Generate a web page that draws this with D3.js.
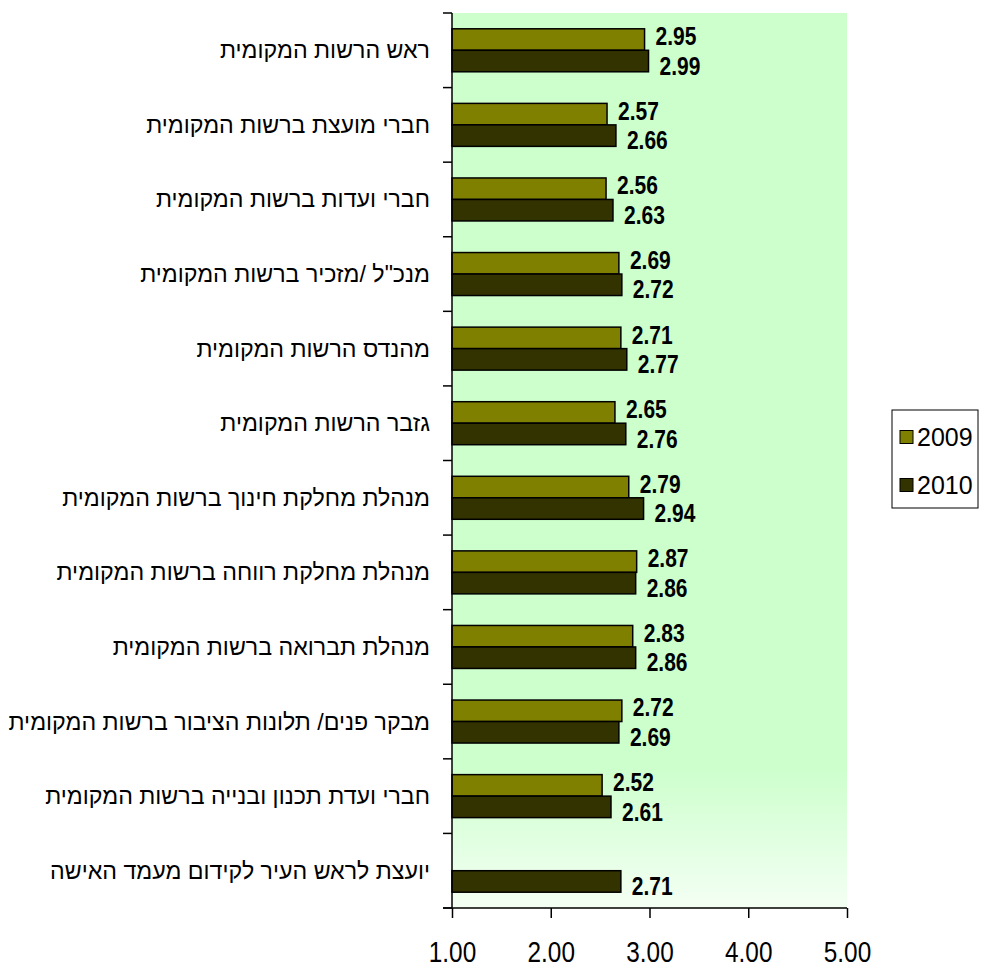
<!DOCTYPE html>
<html>
<head>
<meta charset="utf-8">
<script src="https://cdn.jsdelivr.net/npm/d3@7"></script>
<style>
  html, body { margin: 0; padding: 0; background: #fff; }
  svg { display: block; }
</style>
</head>
<body>
<svg id="chart" width="983" height="970"></svg>
<script>
// Role categories, top to bottom
const categories = [
  "ראש הרשות המקומית",
  "חברי מועצת ברשות המקומית",
  "חברי ועדות ברשות המקומית",
  "מנכ\"ל /מזכיר ברשות המקומית",
  "מהנדס הרשות המקומית",
  "גזבר הרשות המקומית",
  "מנהלת מחלקת חינוך ברשות המקומית",
  "מנהלת מחלקת רווחה ברשות המקומית",
  "מנהלת תברואה ברשות המקומית",
  "מבקר פנים/ תלונות הציבור ברשות המקומית",
  "חברי ועדת תכנון ובנייה ברשות המקומית",
  "יועצת לראש העיר לקידום מעמד האישה"
];

const seriesNames = ["2009", "2010"];

const values2009 = [2.95, 2.57, 2.56, 2.69, 2.71, 2.65, 2.79, 2.87, 2.83, 2.72, 2.52, null];
const values2010 = [2.99, 2.66, 2.63, 2.72, 2.77, 2.76, 2.94, 2.86, 2.86, 2.69, 2.61, 2.71];

const xTicks = [1, 2, 3, 4, 5];

const colors = { "2009": "#808000", "2010": "#333300" };

const svg = d3.select("#chart");

const plot = { left: 452, right: 847, top: 13, bottom: 908 };
const narrow = 0.84; // horizontal squeeze for condensed-looking numbers

const x = d3.scaleLinear().domain([1, 5]).range([plot.left, plot.right]);
const y = d3.scaleBand().domain(categories).range([plot.top, plot.bottom]).padding(0);
const ySub = d3.scaleBand().domain(seriesNames).range([0, y.bandwidth()])
  .paddingInner(0).paddingOuter(0.735);

// Plot area background
const defs = svg.append("defs");
const grad = defs.append("linearGradient").attr("id", "bg")
  .attr("x1", 0).attr("y1", 0).attr("x2", 0).attr("y2", 1);
grad.append("stop").attr("offset", "0%").attr("stop-color", "#ccffcc");
grad.append("stop").attr("offset", "84%").attr("stop-color", "#ccffcc");
grad.append("stop").attr("offset", "100%").attr("stop-color", "#f4fff4");

svg.append("rect")
  .attr("x", plot.left).attr("y", plot.top)
  .attr("width", plot.right - plot.left).attr("height", plot.bottom - plot.top)
  .attr("fill", "url(#bg)");

// Build flat rows for bars
const rows = [];
categories.forEach((c, i) => {
  [["2009", values2009[i]], ["2010", values2010[i]]].forEach(([s, v]) => {
    if (v != null) rows.push({ cat: c, series: s, value: v });
  });
});

// Bars
svg.append("g").selectAll("rect")
  .data(rows).join("rect")
  .attr("x", x(1))
  .attr("y", d => y(d.cat) + ySub(d.series))
  .attr("width", d => x(d.value) - x(1))
  .attr("height", ySub.bandwidth())
  .attr("fill", d => colors[d.series])
  .attr("stroke", "#000")
  .attr("stroke-width", 1.5);

// Value labels (condensed bold)
const labelShift = { "2009": -3, "2010": 5 };
svg.append("g").selectAll("text")
  .data(rows).join("text")
  .attr("transform", d => `translate(${x(d.value) + 11},${y(d.cat) + ySub(d.series) + ySub.bandwidth() / 2 + labelShift[d.series]}) scale(${narrow},1)`)
  .attr("dominant-baseline", "central")
  .attr("font-family", "'Liberation Sans', Arial, sans-serif")
  .attr("font-weight", "bold")
  .attr("font-size", 25)
  .attr("fill", "#000")
  .text(d => d3.format(".2f")(d.value));

// Left axis: line and tick marks at category boundaries
const yAxisG = svg.append("g");
yAxisG.append("line")
  .attr("x1", plot.left).attr("x2", plot.left)
  .attr("y1", plot.top).attr("y2", plot.bottom)
  .attr("stroke", "#000").attr("stroke-width", 1.5);
const boundaries = categories.map(c => y(c)).concat([plot.bottom]);
yAxisG.selectAll("line.tick").data(boundaries).join("line")
  .attr("class", "tick")
  .attr("x1", plot.left - 9).attr("x2", plot.left)
  .attr("y1", d => d).attr("y2", d => d)
  .attr("stroke", "#000").attr("stroke-width", 1.5);

// Category labels
yAxisG.selectAll("text").data(categories).join("text")
  .attr("x", plot.left - 22)
  .attr("y", d => y(d) + y.bandwidth() / 2)
  .attr("text-anchor", "end")
  .attr("dominant-baseline", "central")
  .attr("font-family", "'Liberation Sans', Arial, sans-serif")
  .attr("font-size", 23.2)
  .attr("fill", "#000")
  .text(d => d);

// Bottom axis
const xAxis = d3.axisBottom(x).tickValues(xTicks).tickFormat(d3.format(".2f"))
  .tickSize(10).tickPadding(24);
const xAxisG = svg.append("g")
  .attr("transform", `translate(0,${plot.bottom})`)
  .call(xAxis);
xAxisG.select(".domain").attr("stroke", "#000").attr("stroke-width", 1.5)
  .attr("d", `M${plot.left - 9},0H${plot.right}`);
xAxisG.selectAll(".tick line").attr("stroke", "#000").attr("stroke-width", 1.5);
xAxisG.selectAll(".tick text")
  .attr("x", 0).attr("y", 0)
  .attr("dy", null)
  .attr("dominant-baseline", "central")
  .attr("transform", `translate(0,44) scale(${narrow},1)`)
  .attr("font-family", "'Liberation Sans', Arial, sans-serif")
  .attr("font-size", 29)
  .attr("fill", "#000");

// Legend
const legend = svg.append("g");
legend.append("rect")
  .attr("x", 892).attr("y", 410).attr("width", 86).attr("height", 98)
  .attr("fill", "#fff").attr("stroke", "#000").attr("stroke-width", 1);
const legendY = d3.scalePoint().domain(seriesNames).range([437, 485]);
const items = legend.selectAll("g.item").data(seriesNames).join("g").attr("class", "item");
items.append("rect")
  .attr("x", 900).attr("y", d => legendY(d) - 6.5)
  .attr("width", 13).attr("height", 13)
  .attr("fill", d => colors[d]).attr("stroke", "#000").attr("stroke-width", 1);
items.append("text")
  .attr("x", 917).attr("y", d => legendY(d))
  .attr("dominant-baseline", "central")
  .attr("font-family", "'Liberation Sans', Arial, sans-serif")
  .attr("font-size", 25)
  .attr("fill", "#000")
  .text(d => d);
</script>
</body>
</html>
